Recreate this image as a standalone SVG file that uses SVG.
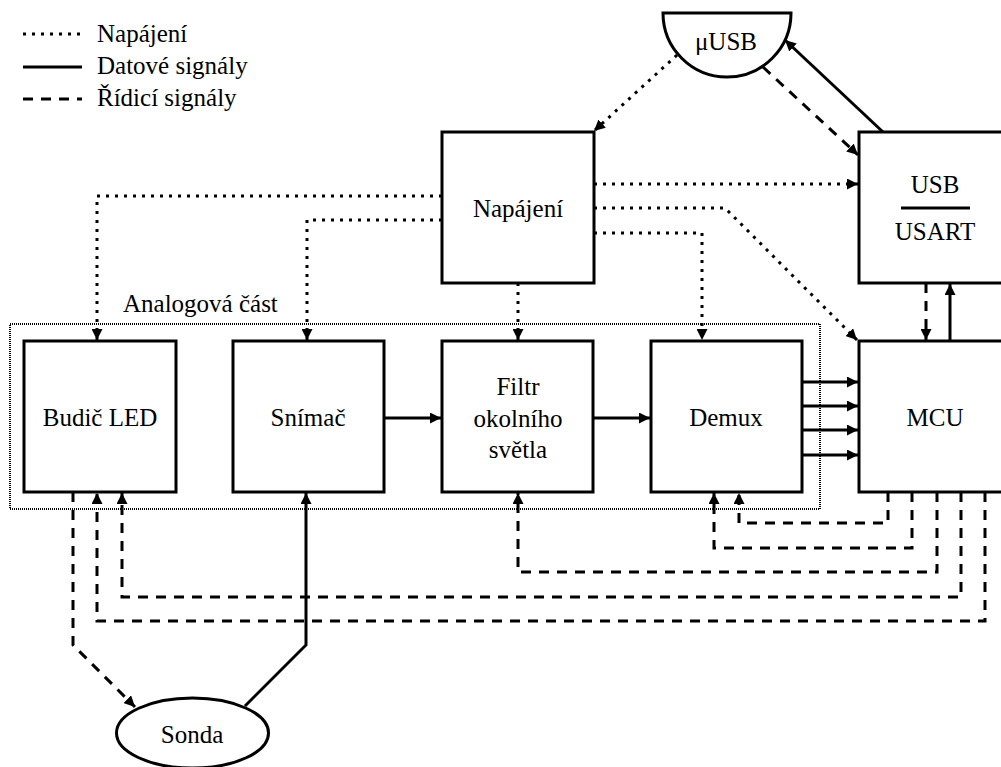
<svg xmlns="http://www.w3.org/2000/svg" width="1001" height="767" viewBox="0 0 1001 767">
<defs>
<marker id="ah" viewBox="0 0 10 10" refX="10" refY="5" markerWidth="11" markerHeight="11" markerUnits="userSpaceOnUse" orient="auto">
<path d="M0,0 L10,5 L0,10 Z" fill="#000"/>
</marker>
<style>
text{font-family:"Liberation Serif","Times New Roman",serif;font-size:25px;fill:#000}
.c{text-anchor:middle}
.box{fill:#fff;stroke:#000;stroke-width:3}
.p,.d,.s{fill:none;stroke:#000;stroke-width:3}
.p{stroke-dasharray:3 6}
.s{stroke-dasharray:10 8}
.a{marker-end:url(#ah)}
.grp{fill:none;stroke:#000;stroke-width:2;stroke-dasharray:1 1}
</style>
</defs>
<rect width="1001" height="767" fill="#fff"/>
<g id="legend">
<line class="p" x1="23" y1="34" x2="82" y2="34"/>
<line class="d" x1="23" y1="67" x2="82" y2="67"/>
<line class="s" x1="23" y1="99" x2="82" y2="99"/>
<text x="97" y="42">Napájení</text>
<text x="97" y="74">Datové signály</text>
<text x="97" y="106">Řídicí signály</text>
</g>
<g id="connectors">
<path class="p a" d="M677,55 L594,131"/>
<path class="p a" d="M442,196 H97 V340"/>
<path class="p a" d="M442,220 H307 V340"/>
<path class="p a" d="M518,283 V340"/>
<path class="p a" d="M594,184 H858"/>
<path class="p a" d="M594,208 H725 L857,340"/>
<path class="p a" d="M594,233 H702 V340"/>
<path class="d a" d="M883,132 L785,40"/>
<path class="d a" d="M384,418 H441"/>
<path class="d a" d="M593,418 H650"/>
<path class="d a" d="M802,382 H858"/>
<path class="d a" d="M802,406 H858"/>
<path class="d a" d="M802,430 H858"/>
<path class="d a" d="M802,455 H858"/>
<path class="d a" d="M950,341 V284"/>
<path class="d a" d="M245,706 L306,645 V493"/>
<path class="s a" d="M763,67 L858,155"/>
<path class="s a" d="M926,283 V340"/>
<path class="s a" d="M888,492 V523 H739 V493"/>
<path class="s a" d="M912,492 V548 H714 V493"/>
<path class="s a" d="M937,492 V572 H518 V493"/>
<path class="s a" d="M961,492 V597 H122 V493"/>
<path class="s a" d="M985,492 V621 H97 V493"/>
<path class="s a" d="M73,492 V645 L135,707"/>
</g>
<g id="analog-group">
<rect class="grp" x="10" y="324" width="810" height="185"/>
<text x="123" y="312">Analogová část</text>
</g>
<g id="usb-connector">
<path class="box" d="M663,13 A64,64 0 0 0 791,13 Z"/>
<text class="c" x="726" y="50">μUSB</text>
</g>
<g id="napajeni">
<rect class="box" x="442" y="132" width="152" height="151"/>
<text class="c" x="518" y="217">Napájení</text>
</g>
<g id="usb-usart">
<rect class="box" x="859" y="132" width="152" height="151"/>
<text class="c" x="935" y="193">USB</text>
<line x1="901" y1="208" x2="970" y2="208" stroke="#000" stroke-width="3"/>
<text class="c" x="935" y="240">USART</text>
</g>
<g id="budic">
<rect class="box" x="24" y="341" width="152" height="151"/>
<text class="c" x="100" y="426">Budič LED</text>
</g>
<g id="snimac">
<rect class="box" x="233" y="341" width="151" height="151"/>
<text class="c" x="308" y="426">Snímač</text>
</g>
<g id="filtr">
<rect class="box" x="442" y="341" width="151" height="151"/>
<text class="c" x="518" y="395">Filtr</text>
<text class="c" x="518" y="427">okolního</text>
<text class="c" x="518" y="458">světla</text>
</g>
<g id="demux">
<rect class="box" x="651" y="341" width="151" height="151"/>
<text class="c" x="726" y="426">Demux</text>
</g>
<g id="mcu">
<rect class="box" x="859" y="341" width="152" height="151"/>
<text class="c" x="935" y="426">MCU</text>
</g>
<g id="sonda">
<ellipse class="box" cx="192.5" cy="733" rx="76" ry="35"/>
<text class="c" x="192" y="743">Sonda</text>
</g>
</svg>
